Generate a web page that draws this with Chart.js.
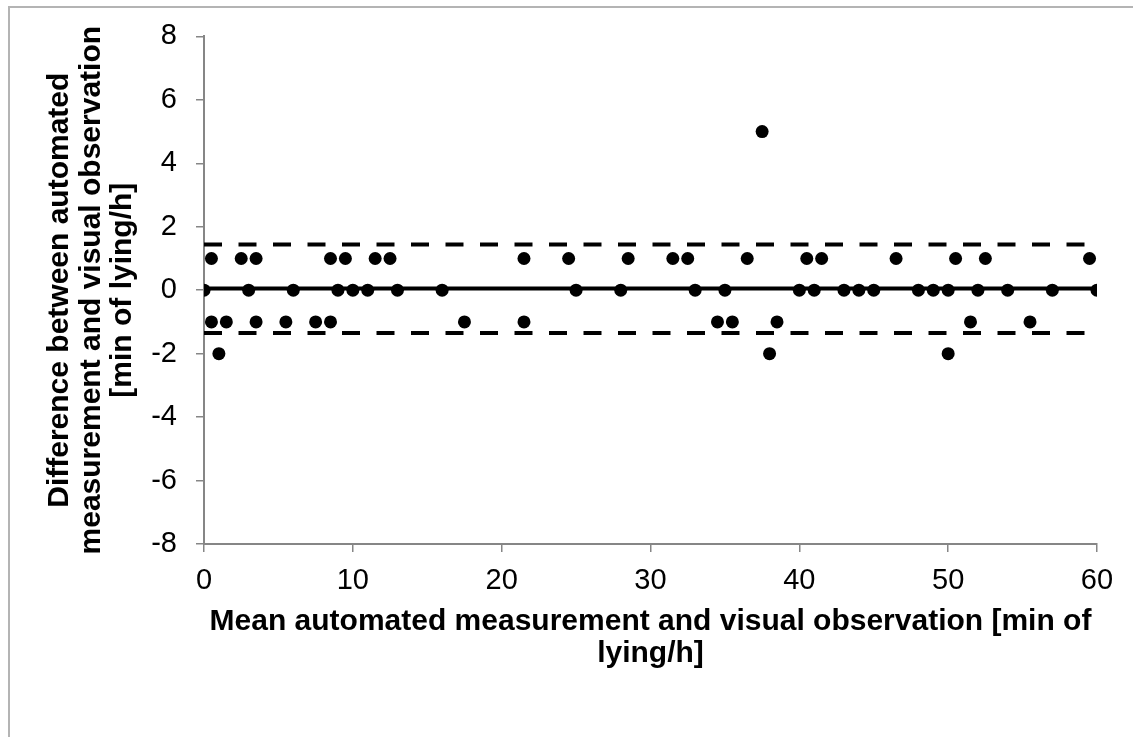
<!DOCTYPE html>
<html>
<head>
<meta charset="utf-8">
<script src="https://cdn.jsdelivr.net/npm/chart.js@4/dist/chart.umd.min.js"></script>
<style>
  body { margin: 0; background: #fff; }
  #wrap { position: relative; width: 1133px; height: 737px; overflow: hidden; }
  #frame { position: absolute; left: 8px; top: 6px; width: 1140px; height: 745px; border: 2px solid #b4b4b4; box-sizing: border-box; }
  #graphique { position: absolute; left: 0; top: 0; }
</style>
</head>
<body>
<div id="wrap">
  <div id="frame"></div>
  <canvas id="graphique" width="1133" height="737"></canvas>
</div>
<script>
// mean of the two methods (x) and their difference (y), min of lying/h
const meanValues = [
    0.5, 2.5, 3.5, 8.5, 9.5, 11.5, 12.5, 21.5, 24.5, 28.5, 31.5, 32.5, 36.5, 40.5, 41.5, 46.5, 50.5, 52.5, 59.5,
    0, 3, 6, 9, 10, 11, 13, 16, 25, 28, 33, 35, 40, 41, 43, 44, 45, 48, 49, 50, 52, 54, 57, 60,
    0.5, 1.5, 3.5, 5.5, 7.5, 8.5, 17.5, 21.5, 34.5, 35.5, 38.5, 51.5, 55.5,
    1, 38, 50,
    37.5
];
const diffValues = [
    1, 1, 1, 1, 1, 1, 1, 1, 1, 1, 1, 1, 1, 1, 1, 1, 1, 1, 1,
    0, 0, 0, 0, 0, 0, 0, 0, 0, 0, 0, 0, 0, 0, 0, 0, 0, 0, 0, 0, 0, 0, 0, 0,
    -1, -1, -1, -1, -1, -1, -1, -1, -1, -1, -1, -1, -1,
    -2, -2, -2,
    5
];

// bias and limits of agreement
const biasValue = 0.05;
const upperLimit = 1.44;
const lowerLimit = -1.35;
const lineRange = [0, 60];

const xTitle = ['Mean automated measurement and visual observation [min of', 'lying/h]'];
const yTitle = ['Difference between automated', 'measurement and visual observation', '[min of lying/h]'];

const points = meanValues.map((v, i) => ({ x: v, y: diffValues[i] }));
const ligne = (val) => lineRange.map(x => ({ x: x, y: val }));

const gris = '#868686';
const police = '"Liberation Sans", Arial, sans-serif';

const ctx = document.getElementById('graphique').getContext('2d');
new Chart(ctx, {
    type: 'scatter',
    data: {
        datasets: [
            {
                label: 'Differences',
                data: points,
                backgroundColor: '#000',
                borderWidth: 0,
                pointRadius: 6.5,
                pointHoverRadius: 6.5,
                order: 0
            },
            {
                label: 'Bias',
                data: ligne(biasValue),
                showLine: true,
                borderColor: '#000',
                borderWidth: 4,
                pointRadius: 0,
                order: 1
            },
            {
                label: 'Upper limit',
                data: ligne(upperLimit),
                showLine: true,
                borderColor: '#000',
                borderWidth: 4,
                borderDash: [18, 16.5],
                pointRadius: 0,
                order: 2
            },
            {
                label: 'Lower limit',
                data: ligne(lowerLimit),
                showLine: true,
                borderColor: '#000',
                borderWidth: 4,
                borderDash: [18, 16.5],
                pointRadius: 0,
                order: 3
            }
        ]
    },
    options: {
        responsive: false,
        animation: false,
        layout: {
            padding: { top: 36, right: 36, left: 0, bottom: 0 }
        },
        plugins: {
            legend: { display: false },
            tooltip: { enabled: false }
        },
        scales: {
            x: {
                type: 'linear',
                min: 0,
                max: 60,
                afterFit: (scale) => { scale.height = 193; },
                ticks: {
                    stepSize: 10,
                    color: '#000',
                    padding: 12,
                    font: { family: police, size: 29 }
                },
                grid: {
                    drawOnChartArea: false,
                    drawTicks: true,
                    tickLength: 8,
                    color: gris,
                    lineWidth: 1.5
                },
                border: { color: gris, width: 2 },
                title: {
                    display: true,
                    text: xTitle,
                    color: '#000',
                    padding: { top: 0, bottom: 68 },
                    font: { family: police, size: 30, weight: 'bold', lineHeight: 1.05 }
                }
            },
            y: {
                type: 'linear',
                min: -8,
                max: 8,
                afterFit: (scale) => { scale.width = 204; },
                ticks: {
                    stepSize: 2,
                    color: '#000',
                    padding: 19,
                    font: { family: police, size: 29 }
                },
                grid: {
                    drawOnChartArea: false,
                    drawTicks: true,
                    tickLength: 8,
                    color: gris,
                    lineWidth: 1.5
                },
                border: { color: gris, width: 2 },
                title: {
                    display: true,
                    text: yTitle,
                    color: '#000',
                    padding: { top: 44, bottom: 0 },
                    font: { family: police, size: 30, weight: 'bold', lineHeight: 1.05 }
                }
            }
        }
    }
});
</script>
</body>
</html>
